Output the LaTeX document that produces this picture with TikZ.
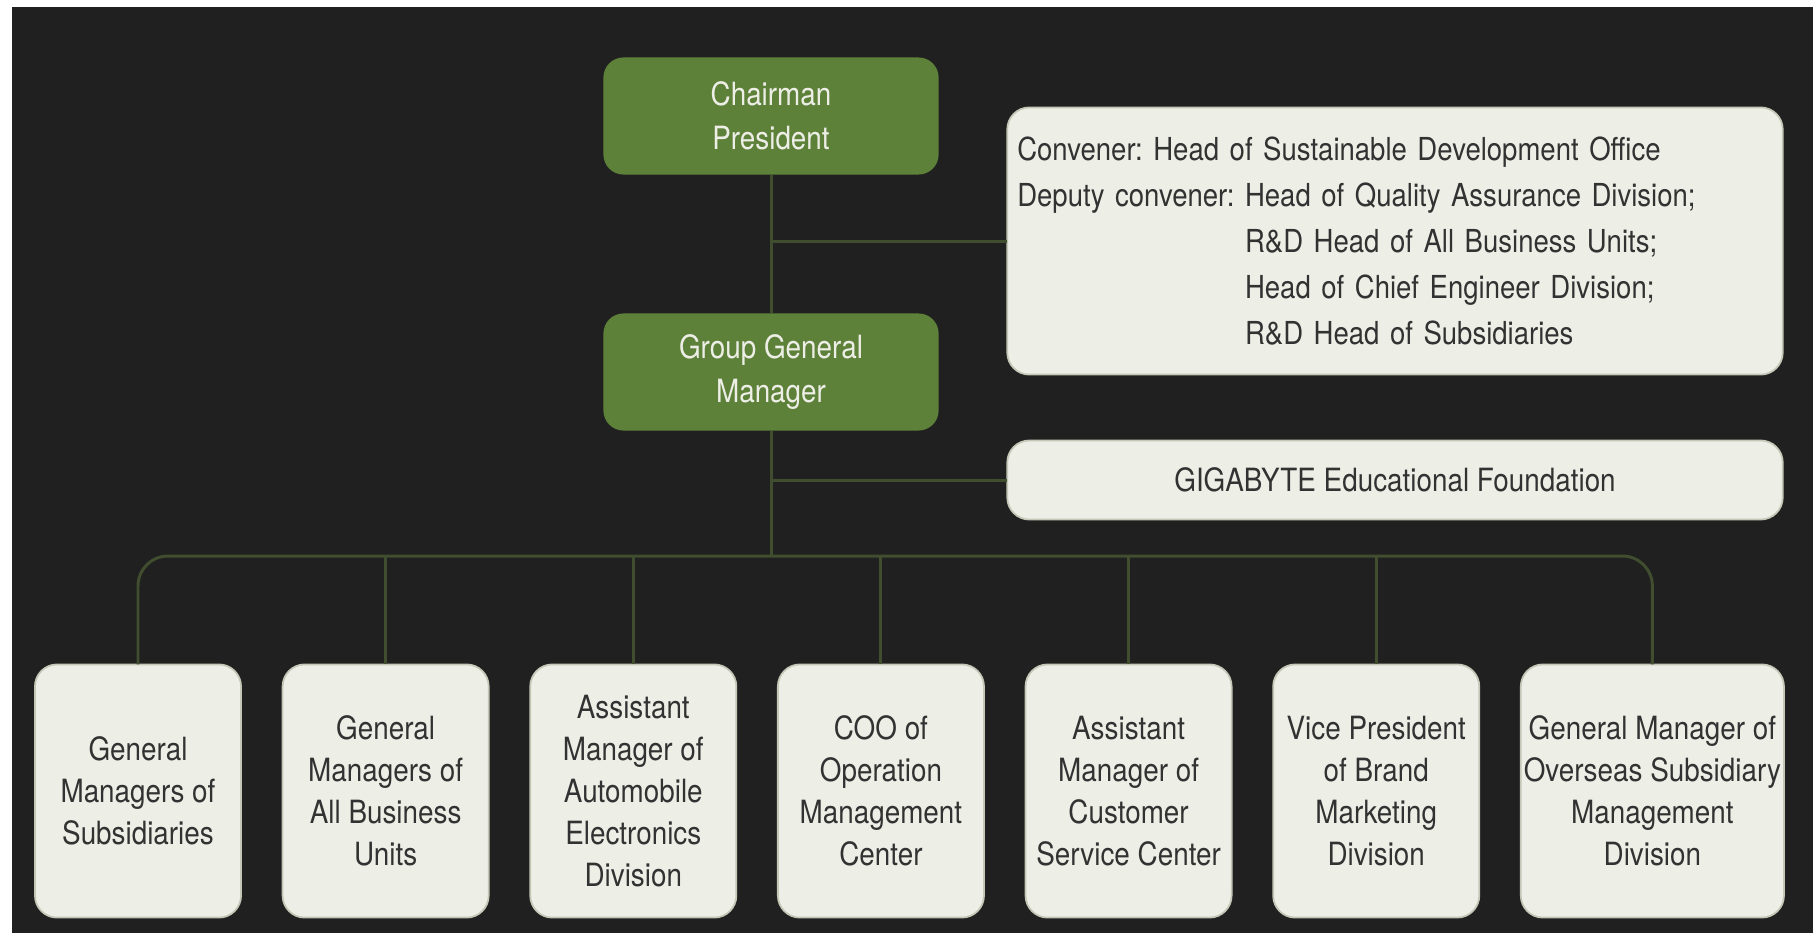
\documentclass[tikz,border=0pt]{standalone}
\usepackage{fontspec}
\setmainfont[FakeStretch=0.87]{TeX Gyre Heros}
\usepackage{xcolor}
\usetikzlibrary{positioning}
\definecolor{chartbg}{RGB}{32,32,32}
\definecolor{leafgreen}{RGB}{94,129,58}
\definecolor{paper}{RGB}{237,238,230}
\definecolor{paperedge}{RGB}{196,198,182}
\definecolor{inkgray}{RGB}{50,50,50}
\definecolor{stem}{RGB}{64,77,46}
\frenchspacing
\tikzset{ % box and line styles
  headbox/.style={fill=leafgreen, text=paper, rounded corners=0.2cm, inner sep=0pt,
    outer sep=0pt, minimum width=3.35cm, minimum height=1.17cm, align=center,
    font=\fontsize{9.1}{12.6}\selectfont},
  notebox/.style={fill=paper, draw=paperedge, line width=0.5pt, text=inkgray,
    rounded corners=0.22cm, inner xsep=0.1cm, inner ysep=0pt, outer sep=0pt,
    minimum width=7.75cm, font=\fontsize{9.0}{13.1}\selectfont},
  unitbox/.style={fill=paper, draw=paperedge, line width=0.5pt, text=inkgray,
    rounded corners=0.22cm, inner sep=0pt, outer sep=0pt, minimum width=2.06cm,
    minimum height=2.53cm, align=center, font=\fontsize{9.1}{11.9}\selectfont},
  link/.style={draw=stem, line width=0.85pt}
}

\begin{document}
\begin{tikzpicture}[x=0.01cm, y=-0.01cm]
\fill[white] (0,0) rectangle (1815,933);
\fill[chartbg] (12,7) rectangle (1813,933);

% top of the chart
\node[headbox] (chair) at (771,116) {Chairman\\President};
\node[headbox] (ggm) at (771,372) {Group General\\Manager};
\node[notebox, minimum height=2.67cm, text width=7.55cm, align=left] (committee) at (1395,241)
{Convener: Head of Sustainable Development Office\\
Deputy convener: Head of Quality Assurance Division;\\
\hphantom{Deputy convener: }R\&D Head of All Business Units;\\
\hphantom{Deputy convener: }Head of Chief Engineer Division;\\
\hphantom{Deputy convener: }R\&D Head of Subsidiaries};
\node[notebox, minimum height=0.79cm, align=center, font=\fontsize{9.1}{11.9}\selectfont] (foundation) at (1395,480) {GIGABYTE Educational Foundation};

% bottom row
\node[unitbox] (gm-sub) at (138,791) {General\\Managers of\\Subsidiaries};
\node[unitbox, right=0.415cm of gm-sub] (gm-bu) {General\\Managers of\\All Business\\Units};
\node[unitbox, right=0.415cm of gm-bu] (am-auto) {Assistant\\Manager of\\Automobile\\Electronics\\Division};
\node[unitbox, right=0.415cm of am-auto] (coo) {COO of\\Operation\\Management\\Center};
\node[unitbox, right=0.415cm of coo] (am-cs) {Assistant\\Manager of\\Customer\\Service Center};
\node[unitbox, right=0.415cm of am-cs] (vp-brand) {Vice President\\of Brand\\Marketing\\Division};
\node[unitbox, right=0.415cm of vp-brand, minimum width=2.63cm] (gm-overseas) {General Manager of\\Overseas Subsidiary\\Management\\Division};

\coordinate (bus) at (771,556);
\draw[link] (chair) -- (ggm);
\draw[link] (chair.south |- committee.west) -- (committee.west);
\draw[link] (ggm.south) -- (bus);
\draw[link] (ggm.south |- foundation.west) -- (foundation.west);
\draw[link, rounded corners=0.3cm] (gm-sub.north) |- (bus) -| (gm-overseas.north);
\path
(gm-bu.north) edge[link] (gm-bu.north |- bus)
(am-auto.north) edge[link] (am-auto.north |- bus)
(coo.north) edge[link] (coo.north |- bus)
(am-cs.north) edge[link] (am-cs.north |- bus)
(vp-brand.north) edge[link] (vp-brand.north |- bus);
\end{tikzpicture}
\end{document}
